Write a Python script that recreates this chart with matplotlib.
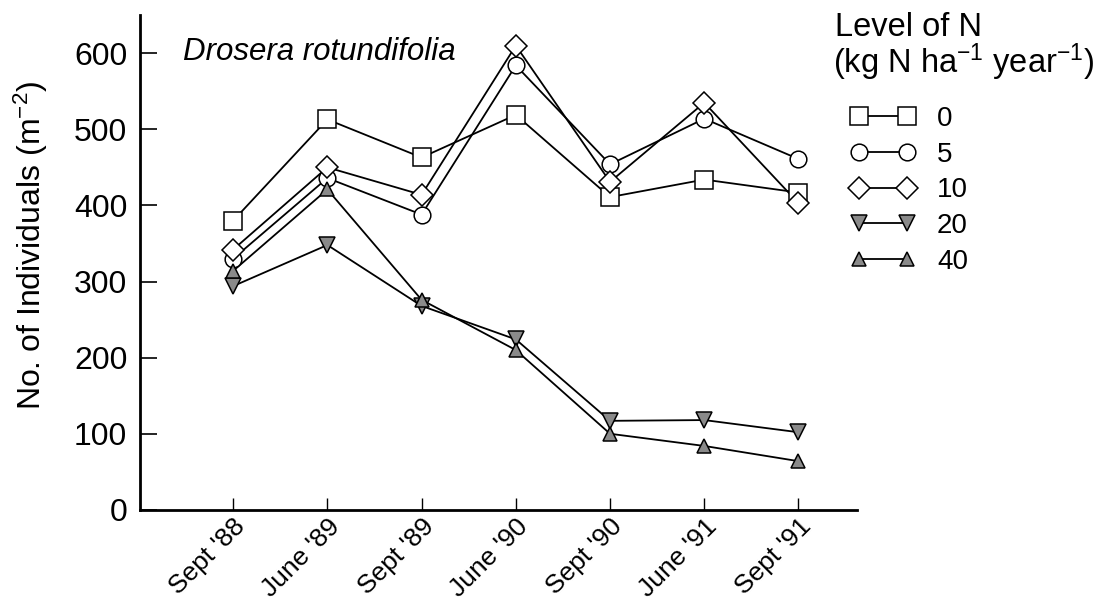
import matplotlib
matplotlib.use("Agg")
import matplotlib.pyplot as plt
from matplotlib.lines import Line2D
import matplotlib.transforms as mtransforms

plt.rcParams['font.family'] = ['Liberation Sans', 'DejaVu Sans']
plt.rcParams['mathtext.default'] = 'regular'

dates = ["Sept '88", "June '89", "Sept '89", "June '90", "Sept '90", "June '91", "Sept '91"]
levels = ["0", "5", "10", "20", "40"]

n0 = [380, 513, 463, 519, 411, 434, 417]
n5 = [330, 436, 388, 584, 454, 514, 461]
n10 = [342, 450, 414, 610, 431, 535, 403]
n20 = [294, 348, 268, 224, 117, 118, 102]
n40 = [314, 421, 276, 210, 100, 84, 64]

series = [n0, n5, n10, n20, n40]
markers = ["s", "o", "D", "v", "^"]
sizes = [13, 12, 11, 11, 10]
faces = ["white", "white", "white", "#8a8a8a", "#8a8a8a"]

fig = plt.figure(figsize=(11.1, 6.07), dpi=100)
ax = fig.add_axes([0.126, 0.160, 0.646, 0.815])

x = list(range(len(dates)))
handles = []
for vals, m, s, fc, lab in zip(series, markers, sizes, faces, levels):
    ax.plot(x, vals, color="black", lw=1.3, zorder=2)
    ax.plot(x, vals, linestyle="None", marker=m, markersize=s,
            markerfacecolor=fc, markeredgecolor="black", markeredgewidth=1.1, zorder=3)
    handles.append(Line2D([], [], color="black", lw=1.3, marker=m, markersize=s,
                          markerfacecolor=fc, markeredgecolor="black", markeredgewidth=1.1,
                          label=lab))

ax.set_xlim(-0.99, 6.62)
ax.set_ylim(0, 650)
ax.set_yticks([0, 100, 200, 300, 400, 500, 600])
ax.set_xticks(x)
ax.set_xticklabels(dates, rotation=45, ha="right", va="top", rotation_mode="anchor", fontsize=19)
# shift rotated labels so their ends sit just right of the ticks
offset = mtransforms.ScaledTranslation(0.17, 0.02, fig.dpi_scale_trans)
for lbl in ax.get_xticklabels():
    lbl.set_transform(lbl.get_transform() + offset)

ax.tick_params(axis="y", direction="in", length=12, width=1.2, labelsize=23, pad=9)
ax.tick_params(axis="x", direction="in", length=9, width=1.0, pad=3)
for side in ["top", "right"]:
    ax.spines[side].set_visible(False)
for side in ["left", "bottom"]:
    ax.spines[side].set_linewidth(2)

ax.set_ylabel("No. of Individuals (m$^{-2}$)", fontsize=23)
ax.yaxis.set_label_coords(-0.126, 0.535)
ax.text(0.06, 0.955, "Drosera rotundifolia", transform=ax.transAxes, fontsize=22.5,
        style="italic", va="top")

fig.text(835 / 1110, 1 - 27 / 607, "Level of N", fontsize=23.5, va="center")
fig.text(833 / 1110, 1 - 62 / 607, "(kg N ha$^{-1}$ year$^{-1}$)", fontsize=23.5, va="center")
fig.legend(handles=handles, loc="upper left", bbox_to_anchor=(851 / 1110, 1 - 106 / 607),
           frameon=False, numpoints=2, fontsize=20, handlelength=2.3, handletextpad=0.8,
           labelspacing=0.35, borderpad=0, borderaxespad=0)

fig.savefig("out.png", dpi=100)
